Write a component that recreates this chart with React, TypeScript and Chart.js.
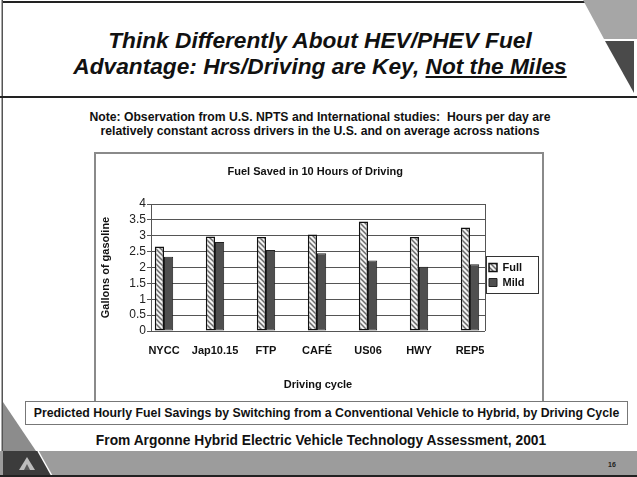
import React, { useEffect, useRef } from "react";
import { Chart, registerables } from "chart.js";

Chart.register(...registerables);

const FONT = "'Liberation Sans', Arial, sans-serif";

const categories = ["NYCC", "Jap10.15", "FTP", "CAFÉ", "US06", "HWY", "REP5"];
const fullValues = [2.66, 2.98, 2.96, 3.04, 3.45, 2.96, 3.26];
const mildValues = [2.34, 2.8, 2.55, 2.45, 2.22, 2.02, 2.1];
const seriesNames = ["Full", "Mild"];
const yTicks = [0, 0.5, 1, 1.5, 2, 2.5, 3, 3.5, 4];

function makeHatch(): CanvasPattern | string {
  const c = document.createElement("canvas");
  c.width = 5;
  c.height = 5;
  const ctx = c.getContext("2d");
  if (!ctx) return "#ccc";
  ctx.fillStyle = "#f2f2f2";
  ctx.fillRect(0, 0, 5, 5);
  ctx.strokeStyle = "#6a6a6a";
  ctx.lineWidth = 1.5;
  ctx.beginPath();
  ctx.moveTo(-1, -1);
  ctx.lineTo(6, 6);
  ctx.moveTo(4, -1);
  ctx.lineTo(6, 1);
  ctx.moveTo(-1, 4);
  ctx.lineTo(1, 6);
  ctx.stroke();
  return ctx.createPattern(c, "repeat") || "#ccc";
}

const framePlugin = {
  id: "frame",
  afterDraw(chart: any) {
    const { ctx, chartArea: a } = chart;
    ctx.save();
    ctx.strokeStyle = "#555";
    ctx.lineWidth = 1;
    ctx.beginPath();
    ctx.moveTo(Math.round(a.right) + 0.5, a.top);
    ctx.lineTo(Math.round(a.right) + 0.5, a.bottom);
    ctx.stroke();
    const lg = chart.legend;
    if (lg && lg.legendHitBoxes && lg.legendHitBoxes.length) {
      const hb = lg.legendHitBoxes;
      const first = hb[0];
      const last = hb[hb.length - 1];
      const left = first.left - 3;
      const top = first.top - 6;
      const bottom = last.top + last.height + 5;
      const right = lg.right + 4;
      ctx.strokeStyle = "#333";
      ctx.lineWidth = 1;
      ctx.strokeRect(Math.round(left) + 0.5, Math.round(top) + 0.5, Math.round(right - left), Math.round(bottom - top));
    }
    ctx.restore();
  },
};

function FuelChart() {
  const ref = useRef<HTMLCanvasElement | null>(null);
  useEffect(() => {
    if (!ref.current) return;
    const hatch = makeHatch();
    const chart = new Chart(ref.current, {
      type: "bar",
      data: {
        datasets: [
          {
            label: seriesNames[0],
            data: fullValues.map((v, i) => ({ x: i, y: v })),
            backgroundColor: hatch as any,
            borderColor: "#111",
            borderWidth: 1.5,
            borderSkipped: false,
            categoryPercentage: 0.36,
            barPercentage: 1,
          },
          {
            label: seriesNames[1],
            data: mildValues.map((v, i) => ({ x: i, y: v })),
            backgroundColor: "#4f4f4f",
            borderColor: "#222",
            borderWidth: 1,
            borderSkipped: false,
            categoryPercentage: 0.36,
            barPercentage: 1,
          },
        ],
      },
      options: {
        responsive: false,
        animation: false,
        layout: { padding: { left: 0, right: 7.5, top: 0, bottom: 0 } },
        plugins: {
          title: {
            display: true,
            text: "Fuel Saved in 10 Hours of Driving",
            color: "#111",
            font: { family: FONT, size: 11, weight: "bold" },
            padding: { top: 11.4, bottom: 25.4 },
          },
          legend: {
            position: "right",
            labels: {
              boxWidth: 8,
              boxHeight: 8,
              padding: 4,
              color: "#111",
              font: { family: FONT, size: 11, weight: "bold" },
            },
          },
          tooltip: { enabled: false },
        },
        scales: {
          x: {
            type: "linear",
            offset: false,
            min: -0.255,
            max: 6.294,
            grid: { display: false, drawTicks: false, offset: false },
            border: { display: false },
            afterBuildTicks: (s: any) => {
              s.ticks = categories.map((_, i) => ({ value: i }));
            },
            afterFit: (s: any) => {
              s.height = 65;
            },
            ticks: {
              padding: 13.4,
              color: "#111",
              autoSkip: false,
              maxRotation: 0,
              font: { family: FONT, size: 11, weight: "bold" },
              callback: (v: any) => categories[Math.round(Number(v))] ?? "",
            },
            title: {
              display: true,
              text: "Driving cycle",
              color: "#111",
              padding: { top: 0, bottom: 4.4 },
              font: { family: FONT, size: 11, weight: "bold" },
            },
          },
          y: {
            min: yTicks[0],
            max: yTicks[yTicks.length - 1],
            afterBuildTicks: (s: any) => {
              s.ticks = yTicks.map((v) => ({ value: v }));
            },
            afterFit: (s: any) => {
              s.width = 55;
            },
            ticks: {
              padding: 1,
              color: "#222",
              autoSkip: false,
              font: { family: FONT, size: 12 },
              callback: (v: any) => String(v),
            },
            grid: { color: "#555", tickLength: 4, tickColor: "#555", lineWidth: 1 },
            border: { color: "#555", width: 1 },
            title: {
              display: true,
              text: "Gallons of gasoline",
              color: "#111",
              padding: { top: 3.4, bottom: 0 },
              font: { family: FONT, size: 11, weight: "bold" },
            },
          },
        },
      },
      plugins: [framePlugin],
    } as any);
    return () => chart.destroy();
  }, []);
  return <canvas ref={ref} width={446} height={242} style={{ position: "absolute", left: 96, top: 154, width: 446, height: 242 }} />;
}

export default function App() {
  return (
    <div
      style={{
        position: "fixed",
        left: 0,
        top: 0,
        width: 637,
        height: 477,
        background: "#fff",
        overflow: "hidden",
        fontFamily: FONT,
        color: "#111",
      }}
    >
      <svg width={637} height={477} style={{ position: "absolute", left: 0, top: 0 }}>
        <rect x={2} y={1} width={583} height={2} fill="#222" />
        <rect x={1.5} y={0} width={1.5} height={477} fill="#555" />
        <rect x={0} y={96} width={637} height={2} fill="#222" />
        <polygon points="583,0 637,0 637,39 604,39" fill="#a6a6a6" />
        <polygon points="605,41 634,41 634,93" fill="#4a4a4a" />
        <polygon points="3,402 3,451 36,451" fill="#8c8c8c" />
        <rect x={0} y={451} width={637} height={25} fill="#9c9c9c" />
        <polygon points="3,451 38,451 52,476 3,476" fill="#3c3c3c" />
        <line x1={38} y1={451} x2={52} y2={476} stroke="#fff" strokeWidth={1.5} />
        <polygon points="19,470 27,457 35,470" fill="#bdbdbd" />
        <polygon points="24,470 27,464 30,470" fill="#5a5a5a" />
        <rect x={0} y={475} width={637} height={2} fill="#222" />
        <rect x={95} y={153} width={448} height={249} fill="none" stroke="#8a8a8a" strokeWidth={2} />
      </svg>

      <div
        style={{
          position: "absolute",
          left: 0,
          top: 27,
          width: 640,
          textAlign: "center",
          fontSize: 22.7,
          fontWeight: "bold",
          fontStyle: "italic",
          lineHeight: "26px",
        }}
      >
        Think Differently About HEV/PHEV Fuel
        <br />
        Advantage: Hrs/Driving are Key, <span style={{ textDecoration: "underline" }}>Not the Miles</span>
      </div>

      <div
        style={{
          position: "absolute",
          left: 0,
          top: 110,
          width: 640,
          textAlign: "center",
          fontSize: 12.2,
          fontWeight: "bold",
          lineHeight: "14px",
        }}
      >
        Note: Observation from U.S. NPTS and International studies:&nbsp; Hours per day are
        <br />
        relatively constant across drivers in the U.S. and on average across nations
      </div>

      <FuelChart />

      <div
        style={{
          position: "absolute",
          left: 25,
          top: 401,
          width: 601,
          height: 22,
          border: "1px solid #777",
          background: "#fff",
          textAlign: "center",
          fontSize: 12.3,
          fontWeight: "bold",
          lineHeight: "22px",
          whiteSpace: "nowrap",
        }}
      >
        Predicted Hourly Fuel Savings by Switching from a Conventional Vehicle to Hybrid, by Driving Cycle
      </div>

      <div
        style={{
          position: "absolute",
          left: 0,
          top: 432,
          width: 642,
          textAlign: "center",
          fontSize: 13.8,
          fontWeight: "bold",
          lineHeight: "18px",
        }}
      >
        From Argonne Hybrid Electric Vehicle Technology Assessment, 2001
      </div>

      <div style={{ position: "absolute", left: 608, top: 461, fontSize: 7, color: "#222", fontWeight: "bold" }}>16</div>
    </div>
  );
}
